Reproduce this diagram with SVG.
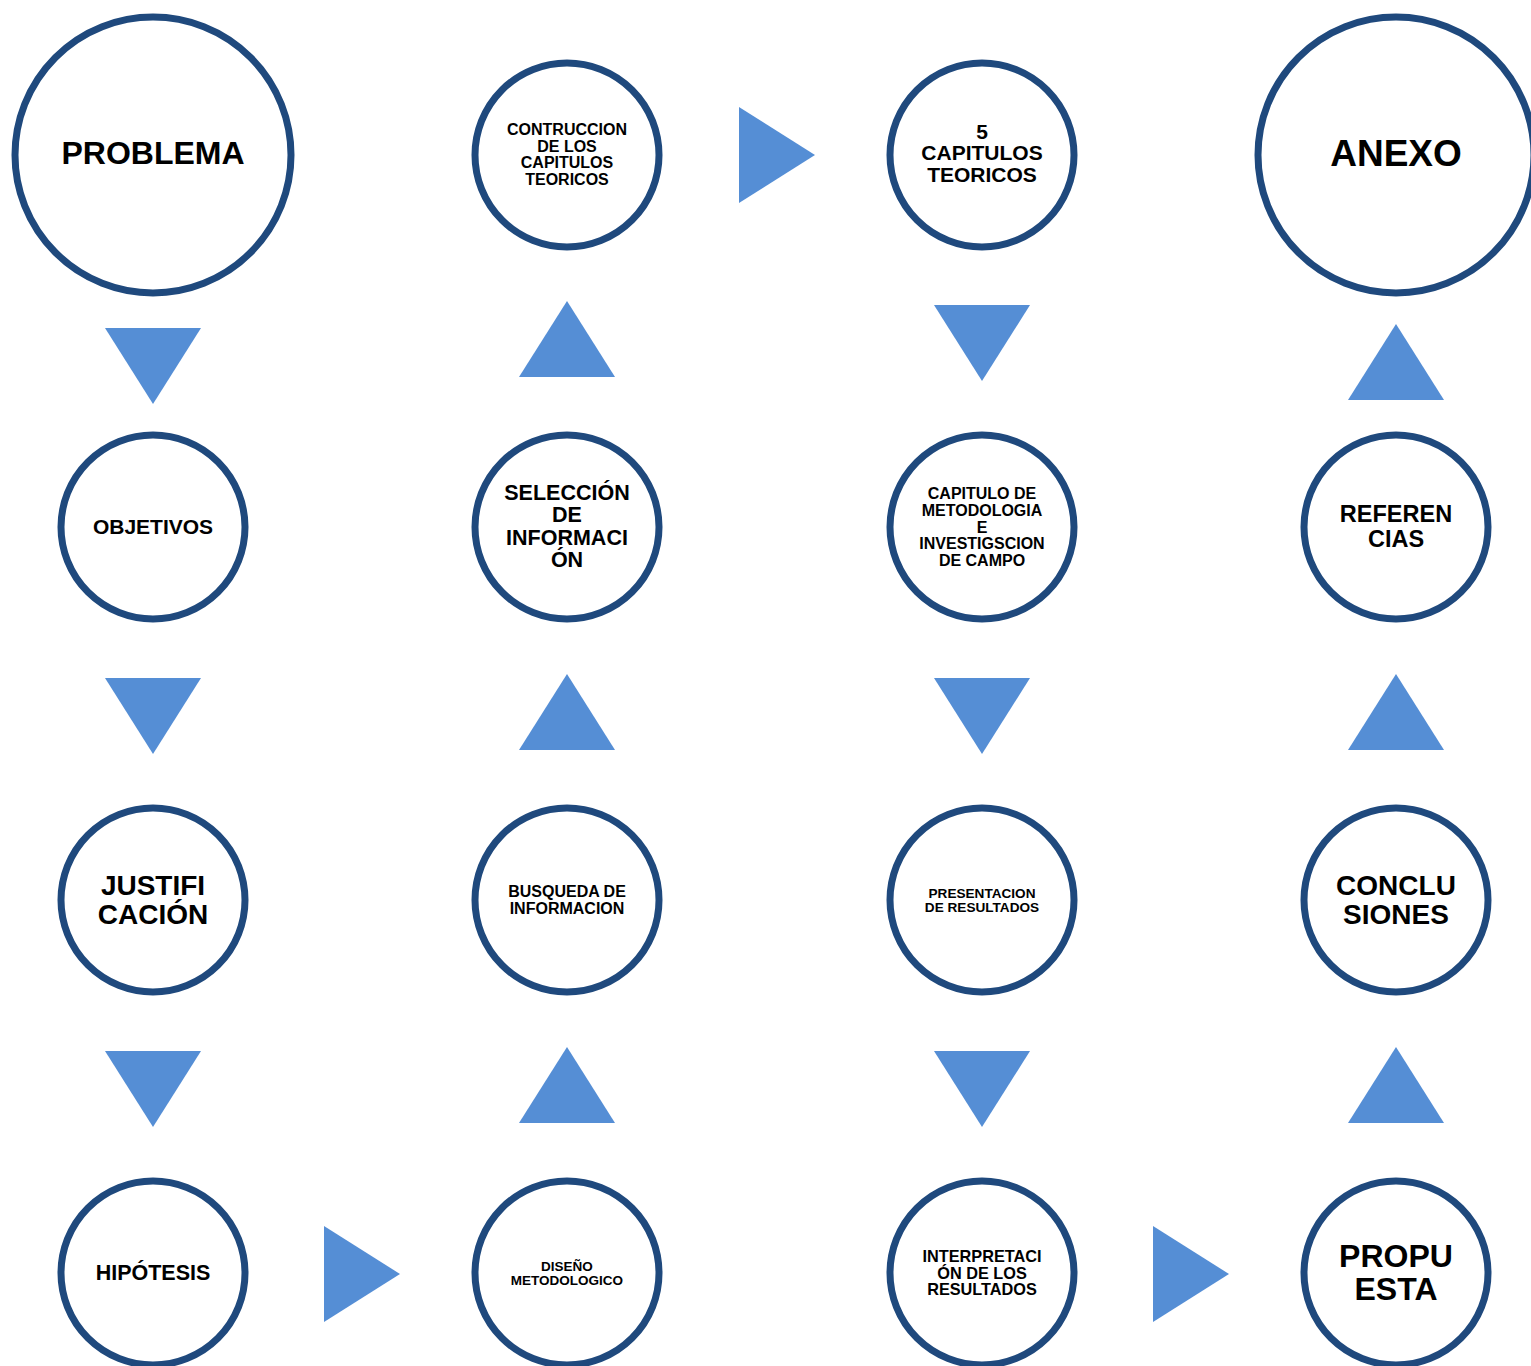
<svg xmlns="http://www.w3.org/2000/svg" width="1531" height="1366" viewBox="0 0 1531 1366">
<style>
.n{fill:#fff;stroke:#1F497D;stroke-width:7}
.t{font-family:"Liberation Sans",Arial,sans-serif;font-weight:bold;fill:#000;text-anchor:middle}
.a{fill:#558ED5}
</style>
<rect width="1531" height="1366" fill="#fff"/>
<g id="connectors">
<polygon class="a" points="105,328 201,328 153,404"/>
<polygon class="a" points="105,678 201,678 153,754"/>
<polygon class="a" points="105,1051 201,1051 153,1127"/>
<polygon class="a" points="324,1226 400,1274 324,1322"/>
<polygon class="a" points="519,1123 615,1123 567,1047"/>
<polygon class="a" points="519,750 615,750 567,674"/>
<polygon class="a" points="519,377 615,377 567,301"/>
<polygon class="a" points="739,107 815,155 739,203"/>
<polygon class="a" points="934,305 1030,305 982,381"/>
<polygon class="a" points="934,678 1030,678 982,754"/>
<polygon class="a" points="934,1051 1030,1051 982,1127"/>
<polygon class="a" points="1153,1226 1229,1274 1153,1322"/>
<polygon class="a" points="1348,1123 1444,1123 1396,1047"/>
<polygon class="a" points="1348,750 1444,750 1396,674"/>
<polygon class="a" points="1348,400 1444,400 1396,324"/>
</g>
<g id="problema"><circle class="n" cx="153" cy="155" r="138"/><text class="t" x="153" y="164" font-size="32">PROBLEMA</text></g>
<g id="objetivos"><circle class="n" cx="153" cy="527" r="92"/><text class="t" x="153" y="534" font-size="21">OBJETIVOS</text></g>
<g id="justificacion"><circle class="n" cx="153" cy="900" r="92"/><text class="t" x="153" y="895" font-size="28">JUSTIFI</text><text class="t" x="153" y="924" font-size="28">CACIÓN</text></g>
<g id="hipotesis"><circle class="n" cx="153" cy="1273" r="92"/><text class="t" x="153" y="1280" font-size="21.5">HIPÓTESIS</text></g>
<g id="diseno"><circle class="n" cx="567" cy="1273" r="92"/><text class="t" x="567" y="1271" font-size="13.5">DISEÑO</text><text class="t" x="567" y="1285" font-size="13.5">METODOLOGICO</text></g>
<g id="busqueda"><circle class="n" cx="567" cy="900" r="92"/><text class="t" x="567" y="897" font-size="16">BUSQUEDA DE</text><text class="t" x="567" y="914" font-size="16">INFORMACION</text></g>
<g id="seleccion"><circle class="n" cx="567" cy="527" r="92"/><text class="t" x="567" y="500" font-size="21.5">SELECCIÓN</text><text class="t" x="567" y="522" font-size="21.5">DE</text><text class="t" x="567" y="545" font-size="21.5">INFORMACI</text><text class="t" x="567" y="567" font-size="21.5">ÓN</text></g>
<g id="contruccion"><circle class="n" cx="567" cy="155" r="92"/><text class="t" x="567" y="135" font-size="16">CONTRUCCION</text><text class="t" x="567" y="152" font-size="16">DE LOS</text><text class="t" x="567" y="168" font-size="16">CAPITULOS</text><text class="t" x="567" y="185" font-size="16">TEORICOS</text></g>
<g id="capitulos"><circle class="n" cx="982" cy="155" r="92"/><text class="t" x="982" y="139" font-size="21">5</text><text class="t" x="982" y="160" font-size="21">CAPITULOS</text><text class="t" x="982" y="182" font-size="21">TEORICOS</text></g>
<g id="metodologia"><circle class="n" cx="982" cy="527" r="92"/><text class="t" x="982" y="499" font-size="16">CAPITULO DE</text><text class="t" x="982" y="516" font-size="16">METODOLOGIA</text><text class="t" x="982" y="533" font-size="16">E</text><text class="t" x="982" y="549" font-size="16">INVESTIGSCION</text><text class="t" x="982" y="566" font-size="16">DE CAMPO</text></g>
<g id="presentacion"><circle class="n" cx="982" cy="900" r="92"/><text class="t" x="982" y="898" font-size="13.6">PRESENTACION</text><text class="t" x="982" y="912" font-size="13.6">DE RESULTADOS</text></g>
<g id="interpretacion"><circle class="n" cx="982" cy="1273" r="92"/><text class="t" x="982" y="1262" font-size="16.3">INTERPRETACI</text><text class="t" x="982" y="1279" font-size="16.3">ÓN DE LOS</text><text class="t" x="982" y="1295" font-size="16.3">RESULTADOS</text></g>
<g id="propuesta"><circle class="n" cx="1396" cy="1273" r="92"/><text class="t" x="1396" y="1267" font-size="32">PROPU</text><text class="t" x="1396" y="1300" font-size="32">ESTA</text></g>
<g id="conclusiones"><circle class="n" cx="1396" cy="900" r="92"/><text class="t" x="1396" y="895" font-size="28">CONCLU</text><text class="t" x="1396" y="924" font-size="28">SIONES</text></g>
<g id="referencias"><circle class="n" cx="1396" cy="527" r="92"/><text class="t" x="1396" y="522" font-size="23.5">REFEREN</text><text class="t" x="1396" y="547" font-size="23.5">CIAS</text></g>
<g id="anexo"><circle class="n" cx="1396" cy="155" r="138"/><text class="t" x="1396" y="166" font-size="37">ANEXO</text></g>
</svg>
